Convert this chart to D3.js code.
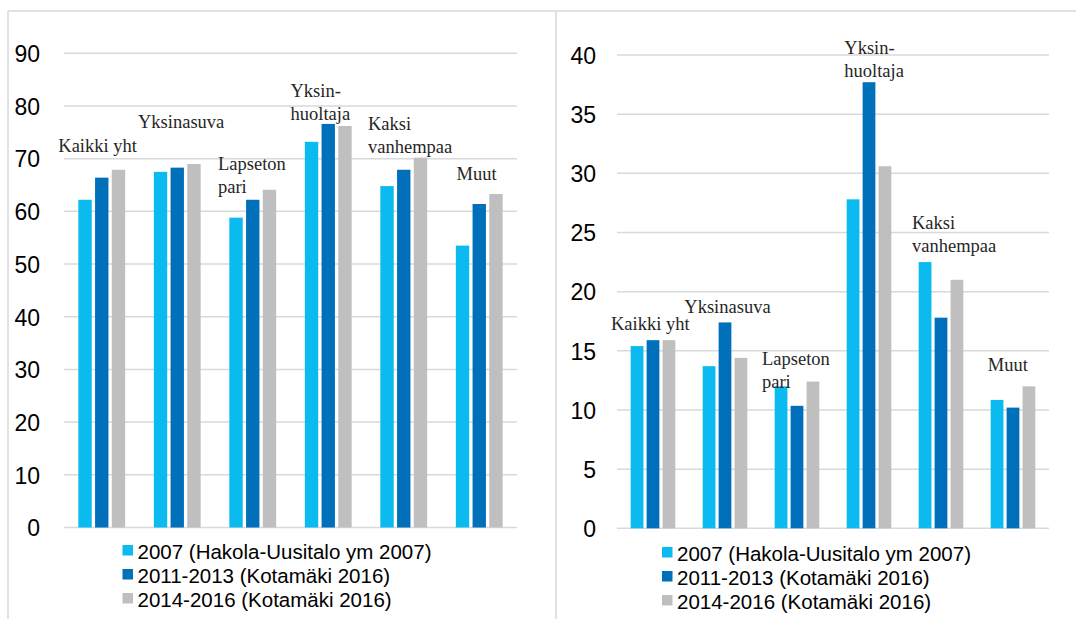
<!DOCTYPE html>
<html>
<head>
<meta charset="utf-8">
<script src="https://cdn.jsdelivr.net/npm/d3@7"></script>
<style>
  html, body { margin: 0; padding: 0; background: #ffffff; }
  svg { display: block; }
</style>
</head>
<body>
<svg id="chart" width="1076" height="619"></svg>
<script>
// ---- Data ----
const categories = ["Kaikki yht", "Yksinasuva", "Lapseton pari", "Yksinhuoltaja", "Kaksi vanhempaa", "Muut"];
const seriesNames = ["2007 (Hakola-Uusitalo ym 2007)", "2011-2013 (Kotamäki 2016)", "2014-2016 (Kotamäki 2016)"];

// Left chart values
const left2007 = [62.2, 67.5, 58.8, 73.2, 64.8, 53.5];
const left2011 = [66.4, 68.3, 62.2, 76.6, 67.9, 61.4];
const left2014 = [67.9, 69.0, 64.1, 76.2, 70.2, 63.3];
const leftTicks = [0, 10, 20, 30, 40, 50, 60, 70, 80, 90];

// Right chart values
const right2007 = [15.4, 13.7, 12.0, 27.8, 22.5, 10.85];
const right2011 = [15.9, 17.4, 10.35, 37.7, 17.8, 10.2];
const right2014 = [15.9, 14.4, 12.4, 30.6, 21.0, 12.0];
const rightTicks = [0, 5, 10, 15, 20, 25, 30, 35, 40];

// Category label text lines (as drawn in the charts)
const labelLines = [["Kaikki yht"], ["Yksinasuva"], ["Lapseton", "pari"], ["Yksin-", "huoltaja"], ["Kaksi", "vanhempaa"], ["Muut"]];

// ---- Styles / layout ----
const colors = ["#0BBAEE", "#0070BA", "#BFBFBF"];
const gridColor = "#D9D9D9";

const svg = d3.select("#chart");

// Outer frame lines
svg.append("line").attr("x1", 8).attr("x2", 1076).attr("y1", 11).attr("y2", 11)
  .attr("stroke", gridColor).attr("stroke-width", 1.5);
svg.append("line").attr("x1", 8).attr("x2", 8).attr("y1", 11).attr("y2", 619)
  .attr("stroke", gridColor).attr("stroke-width", 1.5);
svg.append("line").attr("x1", 556).attr("x2", 556).attr("y1", 11).attr("y2", 619)
  .attr("stroke", gridColor).attr("stroke-width", 1.5);

function drawChart(cfg) {
  const g = svg.append("g");
  const x0 = d3.scaleBand().domain(categories).range([cfg.x0, cfg.x1]).paddingInner(0).paddingOuter(0);
  const bw = x0.bandwidth();
  const x1 = d3.scaleBand().domain(d3.range(3)).range([bw * 0.19, bw * 0.81]).paddingInner(0.2).paddingOuter(0);
  const y = d3.scaleLinear().domain([0, cfg.max]).range([cfg.y0, cfg.yTop]);

  // gridlines
  g.append("g").selectAll("line").data(cfg.ticks).join("line")
    .attr("x1", cfg.x0).attr("x2", cfg.x1)
    .attr("y1", d => y(d)).attr("y2", d => y(d))
    .attr("stroke", gridColor).attr("stroke-width", 1.5);

  // y axis labels via d3 axis
  const axis = d3.axisLeft(y).tickValues(cfg.ticks).tickSize(0).tickPadding(0);
  const ag = g.append("g").attr("transform", `translate(${cfg.labelRight},0)`).call(axis);
  ag.select(".domain").remove();
  ag.selectAll("text")
    .attr("font-family", "Liberation Sans, Arial, sans-serif")
    .attr("font-size", 23).attr("fill", "#000").attr("dy", "0.36em");

  // bars
  const series = cfg.values;
  categories.forEach((c, i) => {
    series.forEach((vals, s) => {
      g.append("rect")
        .attr("x", x0(c) + x1(s))
        .attr("width", x1.bandwidth())
        .attr("y", y(vals[i]))
        .attr("height", y(0) - y(vals[i]))
        .attr("fill", colors[s]);
    });
  });

  // category labels
  categories.forEach((c, i) => {
    const lay = cfg.labels[i];
    const t = g.append("text")
      .attr("font-family", "Liberation Serif, Times New Roman, serif")
      .attr("font-size", 18.5).attr("fill", "#262626")
      .attr("x", x0(c) + lay.dx).attr("y", lay.y);
    labelLines[i].forEach((ln, k) => {
      t.append("tspan").attr("x", x0(c) + lay.dx).attr("dy", k === 0 ? 0 : 23).text(ln);
    });
  });

  // legend
  const lg = g.append("g");
  seriesNames.forEach((name, s) => {
    lg.append("rect").attr("x", cfg.legX).attr("y", cfg.legY + s * 24)
      .attr("width", 10.5).attr("height", 10.5).attr("fill", colors[s]);
    lg.append("text").attr("x", cfg.legX + 15).attr("y", cfg.legY + s * 24 + 14)
      .attr("font-family", "Liberation Sans, Arial, sans-serif")
      .attr("font-size", 20.5).attr("fill", "#000").text(name);
  });
}

drawChart({
  x0: 64, x1: 517, y0: 527.5, yTop: 53.3, max: 90, ticks: leftTicks, labelRight: 40,
  values: [left2007, left2011, left2014],
  labels: [{dx: -5.7, y: 152}, {dx: -1.5, y: 128}, {dx: 3, y: 170}, {dx: 0, y: 97}, {dx: 2, y: 130}, {dx: 15, y: 180}],
  legX: 122.5, legY: 545
});

drawChart({
  x0: 617, x1: 1049, y0: 528.3, yTop: 55, max: 40, ticks: rightTicks, labelRight: 596,
  values: [right2007, right2011, right2014],
  labels: [{dx: -6, y: 330}, {dx: -4.7, y: 313}, {dx: 1, y: 365}, {dx: 11.3, y: 54}, {dx: 7, y: 229}, {dx: 10.7, y: 371}],
  legX: 662, legY: 547
});
</script>
</body>
</html>
